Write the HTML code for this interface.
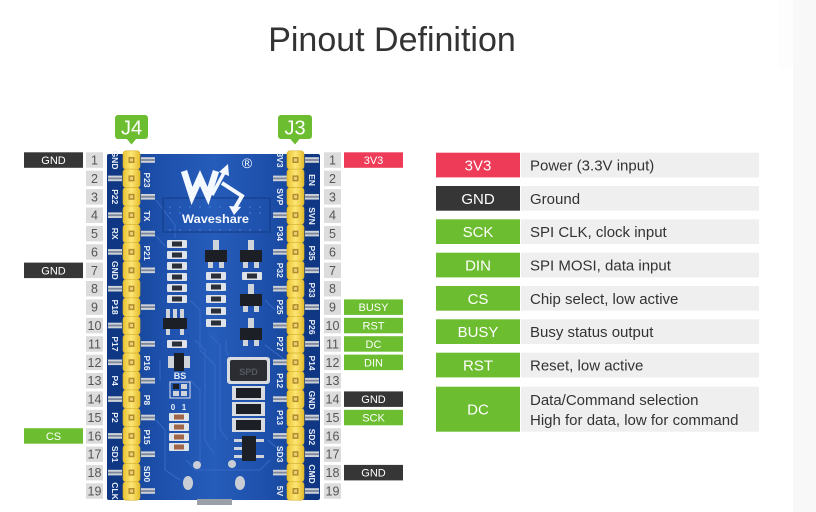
<!DOCTYPE html>
<html><head><meta charset="utf-8"><style>
html,body{margin:0;padding:0;background:#fff;}
body{width:816px;height:512px;overflow:hidden;}
svg{display:block;}
</style></head><body>
<svg width="816" height="512" viewBox="0 0 816 512" xmlns="http://www.w3.org/2000/svg" xmlns:xlink="http://www.w3.org/1999/xlink" font-family="Liberation Sans, sans-serif">
<defs>
<linearGradient id="pcb" x1="0" x2="1" y1="0" y2="0">
<stop offset="0" stop-color="#123d8c"/><stop offset="0.25" stop-color="#1d50ab"/><stop offset="0.5" stop-color="#265cba"/><stop offset="0.75" stop-color="#1d50ab"/><stop offset="1" stop-color="#123d8c"/>
</linearGradient>
<linearGradient id="hy" x1="0" x2="1" y1="0" y2="0">
<stop offset="0" stop-color="#e9c332"/><stop offset="0.5" stop-color="#fde676"/><stop offset="1" stop-color="#e4bc2c"/>
</linearGradient>
<g id="seg"><rect x="-8.5" y="-9.2" width="17" height="18.4" rx="3" fill="url(#hy)" stroke="#d8b12c" stroke-width="0.6"/><rect x="-3" y="-3" width="6" height="6" fill="#b38d2c"/><rect x="-1.5" y="-1.5" width="3" height="3" fill="#ead07a"/></g>
<g id="tab"><rect x="0" y="-2.8" width="14" height="5.6" fill="#cdd1d8"/><rect x="0" y="-0.9" width="14" height="1.8" fill="#7d879c"/></g>
<g id="res"><rect x="0" y="0" width="20" height="8" rx="1" fill="#dfe3ea"/><rect x="5" y="1.5" width="10" height="5" fill="#2a2f3a"/></g>
<g id="res2"><rect x="0" y="0" width="20" height="8" rx="1" fill="#dfe3ea"/><rect x="5" y="1.5" width="10" height="5" fill="#a0664a"/></g>
<g id="sot"><rect x="8" y="-10" width="6" height="10" fill="#cfd3da"/><rect x="0" y="0" width="22" height="12" fill="#1c1f26"/><rect x="3" y="12" width="5" height="6" fill="#cfd3da"/><rect x="14" y="12" width="5" height="6" fill="#cfd3da"/></g>
</defs>

<rect x="793" y="0" width="23" height="512" fill="#f8f8f8"/>
<rect x="778" y="0" width="15" height="68" fill="#fdfdfd"/>

<text x="392" y="51" text-anchor="middle" font-size="34" fill="#333">Pinout Definition</text>

<!-- J labels -->
<rect x="115" y="115" width="33" height="24" rx="3" fill="#6cbd30"/>
<polygon points="126,138 137,138 131.5,144.5" fill="#6cbd30"/>
<text x="131.5" y="134.5" text-anchor="middle" font-size="20" fill="#fff">J4</text>
<rect x="278" y="115" width="34" height="24" rx="3" fill="#6cbd30"/>
<polygon points="289.5,138 300.5,138 295,144.5" fill="#6cbd30"/>
<text x="295" y="134.5" text-anchor="middle" font-size="20" fill="#fff">J3</text>

<!-- board -->
<rect x="107" y="154" width="213" height="346" rx="3" fill="url(#pcb)"/>
<rect x="107" y="154" width="16" height="346" rx="2" fill="#0f3783"/>
<rect x="304" y="154" width="16" height="346" rx="2" fill="#0f3783"/>
<rect x="197" y="499" width="35" height="6" fill="#9aa0a8"/>

<!-- traces -->
<g stroke="#3a6cc8" stroke-width="1.1" fill="none" opacity="0.8">
<path d="M156,200 L175,225 L175,238"/>
<path d="M156,236 L165,246"/>
<path d="M163,198 H270 V232 H163 Z" stroke="#163f8c" stroke-width="1.5"/>
<path d="M190,300 L200,310 L200,350 L215,365 L215,440"/>
<path d="M195,340 L205,350 L205,440 L215,455"/>
<path d="M210,335 L220,345 L220,430 L228,440"/>
<path d="M226,340 L226,350 L228,355"/>
<path d="M190,380 L200,390 L200,470"/>
<path d="M265,300 L275,310"/>
<path d="M265,345 L285,360"/>
<path d="M156,420 L165,430 L165,470 L180,480"/>
<path d="M186,460 L196,470 L260,470 L270,460"/>
<path d="M268,440 L285,455"/>
<path d="M160,360 L160,380"/>
</g>
<g fill="#3d70cc">
<circle cx="170" cy="207" r="1"/><circle cx="180" cy="207" r="1"/><circle cx="190" cy="207" r="1"/><circle cx="200" cy="207" r="1"/><circle cx="210" cy="207" r="1"/><circle cx="220" cy="207" r="1"/><circle cx="230" cy="207" r="1"/><circle cx="240" cy="207" r="1"/><circle cx="250" cy="207" r="1"/><circle cx="260" cy="207" r="1"/>
<circle cx="170" cy="213" r="1"/><circle cx="180" cy="213" r="1"/><circle cx="250" cy="213" r="1"/><circle cx="260" cy="213" r="1"/>
<circle cx="170" cy="230" r="1"/><circle cx="180" cy="230" r="1"/><circle cx="190" cy="230" r="1"/><circle cx="200" cy="230" r="1"/><circle cx="210" cy="230" r="1"/><circle cx="220" cy="230" r="1"/><circle cx="230" cy="230" r="1"/><circle cx="240" cy="230" r="1"/><circle cx="250" cy="230" r="1"/><circle cx="260" cy="230" r="1"/>
</g>

<!-- logo -->
<g fill="none" stroke="#f4f8ff" stroke-width="6.5" stroke-linejoin="miter" stroke-linecap="butt">
<polyline points="184,171 192,196 200,178 208,196 216,171"/>
<line x1="212" y1="195" x2="225" y2="171" stroke-width="3.5"/>
<polyline points="222,183 242,196 235,208" stroke-width="4"/>
</g>
<polygon points="228,164 219,172 229,176" fill="#f4f8ff"/>
<polygon points="229,206 241,207 234,215" fill="#f4f8ff"/>
<text x="247" y="168" text-anchor="middle" font-size="14" fill="#f4f8ff">®</text>
<text x="182" y="223" font-size="12" font-weight="bold" fill="#f4f8ff" textLength="67" lengthAdjust="spacingAndGlyphs">Waveshare</text>

<!-- components -->
<use xlink:href="#res" x="167" y="240"/>
<use xlink:href="#res" x="167" y="251"/>
<use xlink:href="#res" x="167" y="262"/>
<use xlink:href="#res" x="167" y="273"/>
<use xlink:href="#res" x="167" y="284"/>
<use xlink:href="#res" x="167" y="295"/>
<use xlink:href="#sot" x="205" y="250"/>
<use xlink:href="#sot" x="240" y="250"/>
<use xlink:href="#res" x="206" y="272"/>
<use xlink:href="#res" x="206" y="283"/>
<use xlink:href="#res" x="206" y="295"/>
<use xlink:href="#res" x="206" y="307"/>
<use xlink:href="#res" x="206" y="319"/>
<use xlink:href="#res" x="242" y="272"/>
<use xlink:href="#sot" x="240" y="294"/>
<use xlink:href="#sot" x="240" y="328"/>
<!-- left sot-5 -->
<g>
<rect x="166" y="309" width="4" height="9" fill="#cfd3da"/><rect x="173" y="309" width="4" height="9" fill="#cfd3da"/><rect x="180" y="309" width="4" height="9" fill="#cfd3da"/>
<rect x="163" y="318" width="24" height="11" fill="#1c1f26"/>
<rect x="166" y="329" width="4" height="6" fill="#cfd3da"/><rect x="180" y="329" width="4" height="6" fill="#cfd3da"/>
</g>
<use xlink:href="#res" x="167" y="340"/>
<rect x="168" y="356" width="22" height="12" fill="#cfd3da"/>
<rect x="174" y="353" width="10" height="18" fill="#1c1f26"/>
<text x="180" y="379" text-anchor="middle" font-size="9" font-weight="bold" fill="#e8eef8">BS</text>
<rect x="170" y="382" width="20" height="16" fill="none" stroke="#dfe3ea" stroke-width="1"/>
<rect x="173" y="384" width="6" height="5" fill="#1c1f26"/><rect x="181" y="384" width="6" height="5" fill="#cfd3da"/>
<rect x="173" y="391" width="6" height="5" fill="#cfd3da"/><rect x="181" y="391" width="6" height="5" fill="#cfd3da"/>
<text x="173" y="410" text-anchor="middle" font-size="8" font-weight="bold" fill="#e8eef8">0</text>
<text x="184" y="410" text-anchor="middle" font-size="8" font-weight="bold" fill="#e8eef8">1</text>
<use xlink:href="#res2" x="169" y="413"/>
<use xlink:href="#res2" x="169" y="423"/>
<use xlink:href="#res2" x="169" y="433"/>
<use xlink:href="#res2" x="169" y="443"/>
<!-- inductor -->
<rect x="227" y="357" width="43" height="27" rx="3" fill="#d8dbe0"/>
<rect x="230" y="360" width="37" height="21" rx="2" fill="#2b2d33"/>
<text x="248.5" y="375" text-anchor="middle" font-size="9" font-weight="bold" fill="#55585e">SPD</text>
<!-- diodes -->
<rect x="232" y="386" width="33" height="14" fill="#d8dbe0"/><rect x="236" y="388" width="25" height="10" fill="#1c1f26"/>
<rect x="232" y="402" width="33" height="14" fill="#d8dbe0"/><rect x="236" y="404" width="25" height="10" fill="#1c1f26"/>
<rect x="232" y="418" width="33" height="14" fill="#d8dbe0"/><rect x="236" y="420" width="25" height="10" fill="#1c1f26"/>
<!-- ic -->
<rect x="234" y="439" width="8" height="3" fill="#cfd3da"/><rect x="234" y="447" width="8" height="3" fill="#cfd3da"/><rect x="234" y="455" width="8" height="3" fill="#cfd3da"/>
<rect x="256" y="439" width="8" height="3" fill="#cfd3da"/><rect x="256" y="455" width="8" height="3" fill="#cfd3da"/>
<rect x="242" y="436" width="14" height="25" fill="#1c1f26"/>
<!-- holes -->
<circle cx="197" cy="465" r="4" fill="#c9ced6"/>
<circle cx="232" cy="464" r="4" fill="#c9ced6"/>
<ellipse cx="188" cy="483" rx="5" ry="7" fill="#c9ced6"/>
<ellipse cx="240" cy="483" rx="5" ry="7" fill="#c9ced6"/>

<!-- tabs -->
<use xlink:href="#tab" x="141" y="160"/><use xlink:href="#tab" x="108" y="178.4"/>
<use xlink:href="#tab" x="141" y="196.8"/><use xlink:href="#tab" x="108" y="215.2"/>
<use xlink:href="#tab" x="141" y="233.6"/><use xlink:href="#tab" x="108" y="251.9"/>
<use xlink:href="#tab" x="141" y="270.3"/><use xlink:href="#tab" x="108" y="288.7"/>
<use xlink:href="#tab" x="141" y="307.1"/><use xlink:href="#tab" x="108" y="325.5"/>
<use xlink:href="#tab" x="141" y="343.9"/><use xlink:href="#tab" x="108" y="362.3"/>
<use xlink:href="#tab" x="141" y="380.7"/><use xlink:href="#tab" x="108" y="399.1"/>
<use xlink:href="#tab" x="141" y="417.5"/><use xlink:href="#tab" x="108" y="435.9"/>
<use xlink:href="#tab" x="141" y="454.2"/><use xlink:href="#tab" x="108" y="472.6"/>
<use xlink:href="#tab" x="141" y="491"/>
<use xlink:href="#tab" x="305" y="160"/><use xlink:href="#tab" x="273" y="178.4"/>
<use xlink:href="#tab" x="305" y="196.8"/><use xlink:href="#tab" x="273" y="215.2"/>
<use xlink:href="#tab" x="305" y="233.6"/><use xlink:href="#tab" x="273" y="251.9"/>
<use xlink:href="#tab" x="305" y="270.3"/><use xlink:href="#tab" x="273" y="288.7"/>
<use xlink:href="#tab" x="305" y="307.1"/><use xlink:href="#tab" x="273" y="325.5"/>
<use xlink:href="#tab" x="305" y="343.9"/><use xlink:href="#tab" x="273" y="362.3"/>
<use xlink:href="#tab" x="305" y="380.7"/><use xlink:href="#tab" x="273" y="399.1"/>
<use xlink:href="#tab" x="305" y="417.5"/><use xlink:href="#tab" x="273" y="435.9"/>
<use xlink:href="#tab" x="305" y="454.2"/><use xlink:href="#tab" x="273" y="472.6"/>
<use xlink:href="#tab" x="305" y="491"/>

<!-- headers -->
<use xlink:href="#seg" x="131.5" y="160"/><use xlink:href="#seg" x="131.5" y="178.4"/><use xlink:href="#seg" x="131.5" y="196.8"/><use xlink:href="#seg" x="131.5" y="215.2"/><use xlink:href="#seg" x="131.5" y="233.6"/><use xlink:href="#seg" x="131.5" y="251.9"/><use xlink:href="#seg" x="131.5" y="270.3"/><use xlink:href="#seg" x="131.5" y="288.7"/><use xlink:href="#seg" x="131.5" y="307.1"/><use xlink:href="#seg" x="131.5" y="325.5"/><use xlink:href="#seg" x="131.5" y="343.9"/><use xlink:href="#seg" x="131.5" y="362.3"/><use xlink:href="#seg" x="131.5" y="380.7"/><use xlink:href="#seg" x="131.5" y="399.1"/><use xlink:href="#seg" x="131.5" y="417.5"/><use xlink:href="#seg" x="131.5" y="435.9"/><use xlink:href="#seg" x="131.5" y="454.2"/><use xlink:href="#seg" x="131.5" y="472.6"/><use xlink:href="#seg" x="131.5" y="491"/>
<use xlink:href="#seg" x="295.5" y="160"/><use xlink:href="#seg" x="295.5" y="178.4"/><use xlink:href="#seg" x="295.5" y="196.8"/><use xlink:href="#seg" x="295.5" y="215.2"/><use xlink:href="#seg" x="295.5" y="233.6"/><use xlink:href="#seg" x="295.5" y="251.9"/><use xlink:href="#seg" x="295.5" y="270.3"/><use xlink:href="#seg" x="295.5" y="288.7"/><use xlink:href="#seg" x="295.5" y="307.1"/><use xlink:href="#seg" x="295.5" y="325.5"/><use xlink:href="#seg" x="295.5" y="343.9"/><use xlink:href="#seg" x="295.5" y="362.3"/><use xlink:href="#seg" x="295.5" y="380.7"/><use xlink:href="#seg" x="295.5" y="399.1"/><use xlink:href="#seg" x="295.5" y="417.5"/><use xlink:href="#seg" x="295.5" y="435.9"/><use xlink:href="#seg" x="295.5" y="454.2"/><use xlink:href="#seg" x="295.5" y="472.6"/><use xlink:href="#seg" x="295.5" y="491"/>

<!-- silk labels -->
<g font-size="8.5" font-weight="bold" fill="#e8eef8" text-anchor="middle">
<text transform="translate(115,160) rotate(90)" dy="3">GND</text>
<text transform="translate(115,196.8) rotate(90)" dy="3">P22</text>
<text transform="translate(115,233.6) rotate(90)" dy="3">RX</text>
<text transform="translate(115,270.3) rotate(90)" dy="3">GND</text>
<text transform="translate(115,307.1) rotate(90)" dy="3">P18</text>
<text transform="translate(115,343.9) rotate(90)" dy="3">P17</text>
<text transform="translate(115,380.7) rotate(90)" dy="3">P4</text>
<text transform="translate(115,417.5) rotate(90)" dy="3">P2</text>
<text transform="translate(115,454.2) rotate(90)" dy="3">SD1</text>
<text transform="translate(115,491) rotate(90)" dy="3">CLK</text>
<text transform="translate(147,180) rotate(90)" dy="3">P23</text>
<text transform="translate(147,216) rotate(90)" dy="3">TX</text>
<text transform="translate(147,253) rotate(90)" dy="3">P21</text>
<text transform="translate(147,363) rotate(90)" dy="3">P16</text>
<text transform="translate(147,400) rotate(90)" dy="3">P8</text>
<text transform="translate(147,437) rotate(90)" dy="3">P15</text>
<text transform="translate(147,474) rotate(90)" dy="3">SD0</text>
<text transform="translate(280,160) rotate(90)" dy="3">3V3</text>
<text transform="translate(280,196.8) rotate(90)" dy="3">SVP</text>
<text transform="translate(280,233.6) rotate(90)" dy="3">P34</text>
<text transform="translate(280,270.3) rotate(90)" dy="3">P32</text>
<text transform="translate(280,307.1) rotate(90)" dy="3">P25</text>
<text transform="translate(280,343.9) rotate(90)" dy="3">P27</text>
<text transform="translate(280,380.7) rotate(90)" dy="3">P12</text>
<text transform="translate(280,417.5) rotate(90)" dy="3">P13</text>
<text transform="translate(280,454.2) rotate(90)" dy="3">SD3</text>
<text transform="translate(280,491) rotate(90)" dy="3">5V</text>
<text transform="translate(312,180) rotate(90)" dy="3">EN</text>
<text transform="translate(312,216) rotate(90)" dy="3">SVN</text>
<text transform="translate(312,253) rotate(90)" dy="3">P35</text>
<text transform="translate(312,290) rotate(90)" dy="3">P33</text>
<text transform="translate(312,327) rotate(90)" dy="3">P26</text>
<text transform="translate(312,363) rotate(90)" dy="3">P14</text>
<text transform="translate(312,400) rotate(90)" dy="3">GND</text>
<text transform="translate(312,437) rotate(90)" dy="3">SD2</text>
<text transform="translate(312,474) rotate(90)" dy="3">CMD</text>
</g>

<!-- number boxes -->
<g fill="#dcdcdc">
<rect x="86" y="152.3" width="17" height="15.5"/><rect x="86" y="170.7" width="17" height="15.5"/><rect x="86" y="189.1" width="17" height="15.5"/><rect x="86" y="207.5" width="17" height="15.5"/><rect x="86" y="225.9" width="17" height="15.5"/><rect x="86" y="244.2" width="17" height="15.5"/><rect x="86" y="262.6" width="17" height="15.5"/><rect x="86" y="281" width="17" height="15.5"/><rect x="86" y="299.4" width="17" height="15.5"/><rect x="86" y="317.8" width="17" height="15.5"/><rect x="86" y="336.2" width="17" height="15.5"/><rect x="86" y="354.6" width="17" height="15.5"/><rect x="86" y="373" width="17" height="15.5"/><rect x="86" y="391.4" width="17" height="15.5"/><rect x="86" y="409.8" width="17" height="15.5"/><rect x="86" y="428.2" width="17" height="15.5"/><rect x="86" y="446.5" width="17" height="15.5"/><rect x="86" y="464.9" width="17" height="15.5"/><rect x="86" y="483.3" width="17" height="15.5"/>
<rect x="324" y="152.3" width="17" height="15.5"/><rect x="324" y="170.7" width="17" height="15.5"/><rect x="324" y="189.1" width="17" height="15.5"/><rect x="324" y="207.5" width="17" height="15.5"/><rect x="324" y="225.9" width="17" height="15.5"/><rect x="324" y="244.2" width="17" height="15.5"/><rect x="324" y="262.6" width="17" height="15.5"/><rect x="324" y="281" width="17" height="15.5"/><rect x="324" y="299.4" width="17" height="15.5"/><rect x="324" y="317.8" width="17" height="15.5"/><rect x="324" y="336.2" width="17" height="15.5"/><rect x="324" y="354.6" width="17" height="15.5"/><rect x="324" y="373" width="17" height="15.5"/><rect x="324" y="391.4" width="17" height="15.5"/><rect x="324" y="409.8" width="17" height="15.5"/><rect x="324" y="428.2" width="17" height="15.5"/><rect x="324" y="446.5" width="17" height="15.5"/><rect x="324" y="464.9" width="17" height="15.5"/><rect x="324" y="483.3" width="17" height="15.5"/>
</g>
<g font-size="12.5" fill="#555" text-anchor="middle">
<text x="94.5" y="164.5">1</text><text x="94.5" y="182.9">2</text><text x="94.5" y="201.3">3</text><text x="94.5" y="219.7">4</text><text x="94.5" y="238.1">5</text><text x="94.5" y="256.4">6</text><text x="94.5" y="274.8">7</text><text x="94.5" y="293.2">8</text><text x="94.5" y="311.6">9</text><text x="94.5" y="330">10</text><text x="94.5" y="348.4">11</text><text x="94.5" y="366.8">12</text><text x="94.5" y="385.2">13</text><text x="94.5" y="403.6">14</text><text x="94.5" y="422">15</text><text x="94.5" y="440.4">16</text><text x="94.5" y="458.7">17</text><text x="94.5" y="477.1">18</text><text x="94.5" y="495.5">19</text>
<text x="332.5" y="164.5">1</text><text x="332.5" y="182.9">2</text><text x="332.5" y="201.3">3</text><text x="332.5" y="219.7">4</text><text x="332.5" y="238.1">5</text><text x="332.5" y="256.4">6</text><text x="332.5" y="274.8">7</text><text x="332.5" y="293.2">8</text><text x="332.5" y="311.6">9</text><text x="332.5" y="330">10</text><text x="332.5" y="348.4">11</text><text x="332.5" y="366.8">12</text><text x="332.5" y="385.2">13</text><text x="332.5" y="403.6">14</text><text x="332.5" y="422">15</text><text x="332.5" y="440.4">16</text><text x="332.5" y="458.7">17</text><text x="332.5" y="477.1">18</text><text x="332.5" y="495.5">19</text>
</g>

<!-- pin labels -->
<rect x="24" y="152.3" width="59" height="15.5" fill="#363636"/>
<rect x="24" y="262.6" width="59" height="15.5" fill="#363636"/>
<rect x="24" y="428.2" width="59" height="15.5" fill="#6cbd30"/>
<rect x="344" y="152.3" width="59" height="15.5" fill="#ee3b58"/>
<rect x="344" y="299.4" width="59" height="15.5" fill="#6cbd30"/>
<rect x="344" y="317.8" width="59" height="15.5" fill="#6cbd30"/>
<rect x="344" y="336.2" width="59" height="15.5" fill="#6cbd30"/>
<rect x="344" y="354.6" width="59" height="15.5" fill="#6cbd30"/>
<rect x="344" y="391.4" width="59" height="15.5" fill="#363636"/>
<rect x="344" y="409.8" width="59" height="15.5" fill="#6cbd30"/>
<rect x="344" y="464.9" width="59" height="15.5" fill="#363636"/>
<g font-size="11" fill="#fff" text-anchor="middle">
<text x="53.5" y="164">GND</text>
<text x="53.5" y="274.3">GND</text>
<text x="53.5" y="439.9">CS</text>
<text x="373.5" y="164">3V3</text>
<text x="373.5" y="311.1">BUSY</text>
<text x="373.5" y="329.5">RST</text>
<text x="373.5" y="347.9">DC</text>
<text x="373.5" y="366.3">DIN</text>
<text x="373.5" y="403.1">GND</text>
<text x="373.5" y="421.5">SCK</text>
<text x="373.5" y="476.6">GND</text>
</g>

<!-- legend table -->
<g fill="#efefef">
<rect x="521" y="152.7" width="238" height="24.7"/>
<rect x="521" y="186" width="238" height="24.7"/>
<rect x="521" y="219.3" width="238" height="24.7"/>
<rect x="521" y="252.7" width="238" height="24.7"/>
<rect x="521" y="286" width="238" height="24.7"/>
<rect x="521" y="319.3" width="238" height="24.7"/>
<rect x="521" y="352.7" width="238" height="24.7"/>
<rect x="521" y="386.7" width="238" height="45"/>
</g>
<rect x="436" y="152.7" width="84" height="24.7" fill="#ee3b58"/>
<rect x="436" y="186" width="84" height="24.7" fill="#363636"/>
<rect x="436" y="219.3" width="84" height="24.7" fill="#6cbd30"/>
<rect x="436" y="252.7" width="84" height="24.7" fill="#6cbd30"/>
<rect x="436" y="286" width="84" height="24.7" fill="#6cbd30"/>
<rect x="436" y="319.3" width="84" height="24.7" fill="#6cbd30"/>
<rect x="436" y="352.7" width="84" height="24.7" fill="#6cbd30"/>
<rect x="436" y="386.7" width="84" height="45" fill="#6cbd30"/>
<g font-size="15" fill="#fff" text-anchor="middle">
<text x="478" y="170.5">3V3</text>
<text x="478" y="203.8">GND</text>
<text x="478" y="237.1">SCK</text>
<text x="478" y="270.5">DIN</text>
<text x="478" y="303.8">CS</text>
<text x="478" y="337.1">BUSY</text>
<text x="478" y="370.5">RST</text>
<text x="478" y="414.5">DC</text>
</g>
<g font-size="15" fill="#333">
<text x="530" y="170.5">Power (3.3V input)</text>
<text x="530" y="203.8">Ground</text>
<text x="530" y="237.1">SPI CLK, clock input</text>
<text x="530" y="270.5">SPI MOSI, data input</text>
<text x="530" y="303.8">Chip select, low active</text>
<text x="530" y="337.1">Busy status output</text>
<text x="530" y="370.5">Reset, low active</text>
<text x="530" y="405">Data/Command selection</text>
<text x="530" y="425">High for data, low for command</text>
</g>
</svg>
</body></html>
